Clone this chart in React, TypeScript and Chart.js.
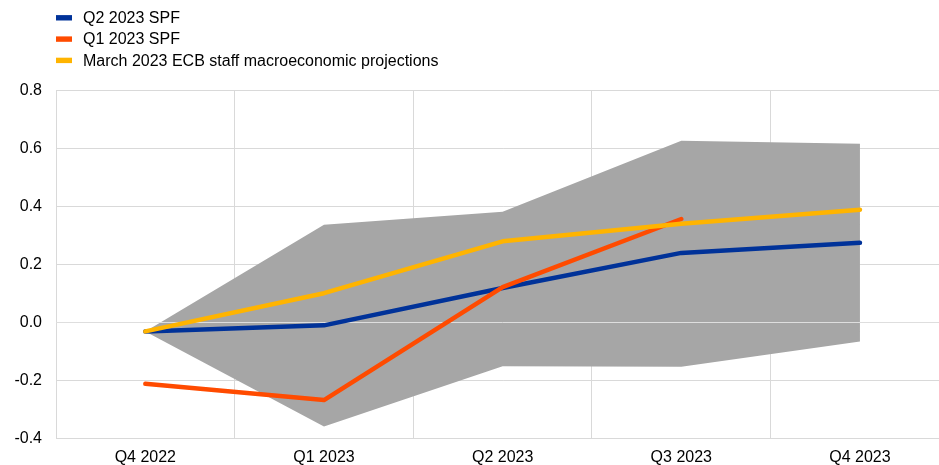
import React, { useEffect, useRef } from "react";
import { Chart, registerables } from "chart.js";
Chart.register(...registerables);

const categories = ["Q4 2022", "Q1 2023", "Q2 2023", "Q3 2023", "Q4 2023"];
const q2Spf = [-0.031, -0.01, 0.119, 0.24, 0.275];
const q1Spf = [-0.212, -0.268, 0.122, 0.357, null];
const ecbMarch = [-0.031, 0.101, 0.28, 0.341, 0.389];
const bandUpper = [-0.031, 0.337, 0.382, 0.627, 0.617];
const bandLower = [-0.031, -0.359, -0.151, -0.153, -0.066];
const seriesLabels = [
  "Q2 2023 SPF",
  "Q1 2023 SPF",
  "March 2023 ECB staff macroeconomic projections",
];
const seriesColors = ["#003299", "#ff4b00", "#ffb400"];
const bandColor = "#a6a6a6";
const yMin = -0.4;
const yMax = 0.8;
const yStep = 0.2;

const FONT = "'Liberation Sans', Arial, sans-serif";
const GRID = "#d9d9d9";

const zeroLinePlugin = {
  id: "zeroLine",
  beforeDatasetDraw(chart: any, args: any) {
    if (args.index !== 0) return;
    const { ctx, chartArea } = chart;
    const y = chart.scales.y.getPixelForValue(0);
    ctx.save();
    ctx.strokeStyle = "#dedede";
    ctx.lineWidth = 1;
    ctx.beginPath();
    ctx.moveTo(chartArea.left, Math.round(y) + 0.5);
    ctx.lineTo(chartArea.right, Math.round(y) + 0.5);
    ctx.stroke();
    ctx.restore();
  },
};

const legendPlugin = {
  id: "customLegend",
  afterDraw(chart: any) {
    const { ctx } = chart;
    const rows = [17.8, 39.1, 60.4];
    ctx.save();
    ctx.font = `16px ${FONT}`;
    ctx.textBaseline = "middle";
    ctx.textAlign = "left";
    for (let i = 0; i < 3; i++) {
      const ds = chart.data.datasets[i];
      ctx.fillStyle = ds.borderColor;
      ctx.fillRect(56, rows[i] - 2.7, 16, 5.4);
      ctx.fillStyle = "#000";
      ctx.fillText(ds.label, 83, rows[i] + 0.8);
    }
    ctx.restore();
  },
};

export default function App() {
  const ref = useRef<HTMLCanvasElement>(null);
  useEffect(() => {
    document.body.style.margin = "0";
    document.body.style.overflow = "hidden";
    const lineDs = (i: number, data: any[], order: number) => ({
      label: seriesLabels[i],
      data,
      borderColor: seriesColors[i],
      backgroundColor: seriesColors[i],
      borderWidth: 4.5,
      borderCapStyle: "round",
      borderJoinStyle: "round",
      pointRadius: 0,
      fill: false,
      order,
      tension: 0,
    });
    const chart = new Chart(ref.current!, {
      type: "line",
      data: {
        labels: categories,
        datasets: [
          lineDs(0, q2Spf, 3),
          lineDs(1, q1Spf, 2),
          lineDs(2, ecbMarch, 1),
          {
            label: "upper",
            data: bandUpper,
            borderWidth: 0,
            borderColor: bandColor,
            backgroundColor: bandColor,
            pointRadius: 0,
            fill: false,
            order: 4,
          } as any,
          {
            label: "lower",
            data: bandLower,
            borderWidth: 0,
            borderColor: bandColor,
            backgroundColor: bandColor,
            pointRadius: 0,
            fill: "-1",
            order: 4,
          } as any,
        ],
      },
      options: {
        animation: false,
        responsive: false,
        devicePixelRatio: 1,
        layout: { padding: { top: 90.7, bottom: 0.5, left: 0, right: 0.7 } },
        plugins: {
          legend: { display: false },
          tooltip: { enabled: false },
        },
        scales: {
          x: {
            offset: true,
            grid: { offset: true, color: GRID, drawTicks: false, lineWidth: 1 },
            border: { display: true, color: GRID },
            ticks: {
              color: "#000",
              font: { family: FONT, size: 16, lineHeight: 1 },
              padding: 11.1,
              maxRotation: 0,
            },
          },
          y: {
            min: yMin,
            max: yMax,
            afterFit: (axis: any) => {
              axis.width = 56;
            },
            grid: { color: GRID, drawTicks: false, lineWidth: 1 },
            border: { display: true, color: GRID },
            ticks: {
              stepSize: yStep,
              color: "#000",
              font: { family: FONT, size: 16, lineHeight: 1 },
              padding: 14,
              callback: (v: any) => Number(v).toFixed(1),
            },
          },
        },
      } as any,
      plugins: [zeroLinePlugin, legendPlugin],
    });
    return () => chart.destroy();
  }, []);
  return (
    <div style={{ width: 950, height: 477, position: "relative" }}>
      <canvas ref={ref} width={950} height={477} style={{ display: "block" }} />
    </div>
  );
}
